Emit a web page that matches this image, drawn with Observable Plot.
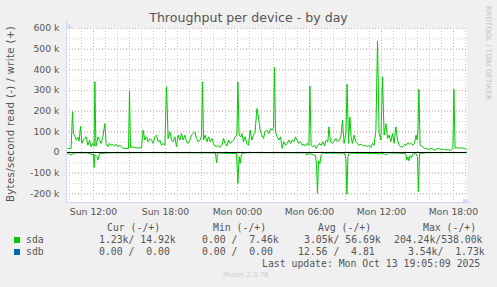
<!DOCTYPE html>
<html><head><meta charset="utf-8">
<script src="https://cdn.jsdelivr.net/npm/d3@7"></script>
<script src="https://cdn.jsdelivr.net/npm/@observablehq/plot@0.6"></script>
<style>
html,body{margin:0;padding:0}
body{background:#f0f0f0;width:497px;height:287px;overflow:hidden;position:relative;font-family:"DejaVu Sans",sans-serif;color:#5a5a5a}
.t{position:absolute;white-space:pre;line-height:1}
.mono{font-family:"DejaVu Sans Mono",monospace;font-size:9.8px;color:#555}
.sq{position:absolute;width:6px;height:6px}
#chart{position:absolute;left:0;top:0}
</style></head><body>
<div id="chart"></div>
<div class="t" style="left:0;width:497px;top:12px;text-align:center;font-size:12.6px;color:#555">Throughput per device - by day</div>
<div class="t" style="left:11px;top:114px;font-size:10.2px;letter-spacing:0.35px;transform:translate(-50%,-50%) rotate(-90deg);color:#555">Bytes/second read (-) / write (+)</div>
<div class="t" style="left:488px;top:53px;font-size:7.3px;color:#c4c4c4;transform:translate(-50%,-50%) rotate(90deg)">RRDTOOL / TOBI OETIKER</div>
<div id="legend"></div>
<script>
// ---- data (values in kB/s; times = minutes after Sun 12 Oct 2025 09:50) ----
const sdaWriteMin = [2,18,25,30,35,43,52,58,65,72,78,85,93,102,110,118,127,133,137,142,147,152,160,168,177,187,193,202,210,218,227,235,243,252,260,268,277,293,305,310,315,327,337,353,370,378,387,395,403,412,420,428,437,445,453,462,470,478,487,495,503,512,520,528,537,545,553,562,570,578,587,595,603,612,620,628,637,645,653,663,670,675,680,688,697,705,713,722,730,738,747,755,763,772,780,788,797,805,813,822,830,838,847,852,858,867,872,880,888,897,905,913,922,930,938,947,955,963,972,980,988,997,1007,1015,1023,1030,1035,1040,1048,1057,1065,1073,1082,1090,1098,1107,1115,1123,1132,1140,1148,1157,1165,1173,1182,1190,1198,1207,1212,1218,1227,1235,1243,1252,1260,1268,1277,1285,1293,1302,1307,1315,1323,1332,1342,1350,1358,1367,1375,1383,1392,1398,1405,1412,1418,1425,1433,1442,1450,1458,1467,1475,1483,1492,1500,1508,1517,1525,1533,1542,1550,1558,1567,1575,1583,1592,1600,1608,1617,1625,1633,1642,1650,1658,1667,1677,1685,1693,1702,1710,1718,1727,1735,1743,1748,1752,1757,1763,1770,1777,1785,1793,1802,1810,1818,1827,1835,1843,1852,1860,1868,1877,1885,1893,1902,1910,1918,1927,1932,1938,1947,1955,1963,1973,1983,1993];
const sdaWrite = [20,20,197,90,84,60,75,55,127,44,60,68,76,35,60,27,44,30,342,30,50,76,60,44,76,140,44,27,44,35,40,30,40,27,35,30,20,20,20,298,25,27,23,22,23,108,60,76,52,68,60,44,76,84,52,60,35,44,35,318,68,100,60,52,76,27,84,60,92,60,84,52,44,60,84,92,100,68,52,60,80,342,60,84,52,76,52,68,44,31,27,35,24,35,68,44,31,60,44,52,60,76,84,342,84,76,92,52,76,44,35,108,60,84,100,213,172,108,84,68,100,108,92,116,108,120,411,100,76,60,76,20,52,35,44,60,44,60,52,76,60,44,52,35,40,31,44,35,321,35,27,35,20,35,44,35,52,31,60,52,124,52,44,52,68,52,60,76,156,44,92,331,44,172,76,44,84,52,44,35,40,35,31,35,27,35,24,44,35,108,538,92,60,366,84,140,68,84,52,92,44,124,60,35,27,27,40,35,47,40,44,35,44,84,60,100,306,35,31,27,20,20,16,15,20,16,11,15,20,18,15,15,15,11,15,11,11,20,306,20,24,20,23,21,21,15];
const sdaReadMin = [0,10,18,25,30,40,100,125,130,133,137,147,152,160,200,400,700,740,745,750,845,852,858,863,870,900,1190,1198,1205,1240,1245,1250,1255,1262,1268,1275,1385,1392,1397,1402,1408,1550,1555,1560,1598,1605,1690,1697,1702,1707,1713,1720,1727,1740,1750,1755,1760,1800,1993];
const sdaRead = [-3,-8,-13,-5,-10,-2,-2,-10,-5,-73,-10,-20,-37,-5,-2,-1,-2,-3,-50,-3,-5,-150,-20,-53,-5,-1,-2,-13,-2,-15,-60,-198,-40,-53,-13,-3,-3,-30,-202,-20,-3,-5,-10,-2,-10,-2,-5,-37,-20,-40,-15,-25,-8,-3,-20,-190,-5,-1,-1];
const sdbMin = [0, 1995];
const sdbRead = [0, 0];
const sdbWrite = [0, 0];
const yTicks = [-200,-100,0,100,200,300,400,500,600];
const devices = ["sda","sdb"];
const colors = ["#00cc00","#0066b3"];
const legendHead = ["Cur (-/+)","Min (-/+)","Avg (-/+)","Max (-/+)"];
const legendRows = [
  ["1.23k/ 14.92k","0.00 /  7.46k","3.05k/ 56.69k","204.24k/538.00k"],
  ["0.00 /  0.00","0.00 /  0.00","12.56 /  4.81","3.54k/  1.73k"]
];
const lastUpdate = "Last update: Mon Oct 13 19:05:09 2025";
const version = "Munin 2.0.76";

// ---- build ----
const base = new Date(2025, 9, 12, 9, 50);
const t = m => new Date(+base + m * 60000);
const start = new Date(2025, 9, 12, 9, 45);
const end = new Date(2025, 9, 13, 19, 5);
const write = sdaWriteMin.map((m, i) => ({time: t(m), v: sdaWrite[i]}));
const read = sdaReadMin.map((m, i) => ({time: t(m), v: sdaRead[i]}));
const sdb = sdbMin.map((m, i) => ({time: t(m), r: sdbRead[i], w: sdbWrite[i]}));
const hours = d3.timeHour.range(start, end);
const hours3 = d3.timeHour.every(3).range(start, end);
const yMinor = d3.range(-200, 601, 50);
const axisCol = "#cfd6f8";
const yLow = -242;

const chart = Plot.plot({
  width: 497, height: 220,
  marginLeft: 66, marginRight: 31, marginTop: 28, marginBottom: 18,
  style: {background: "transparent", fontFamily: "DejaVu Sans", fontSize: "9.3px", color: "#555", overflow: "visible"},
  x: {type: "time", domain: [start, end]},
  y: {domain: [yLow, 600]},
  marks: [
    Plot.frame({fill: "white", stroke: null}),
    Plot.ruleX(hours, {stroke: "#cdcdcd", strokeDasharray: "1,2"}),
    Plot.ruleY(yMinor, {stroke: "#cdcdcd", strokeDasharray: "1,2"}),
    Plot.ruleX(hours3, {stroke: "#f0a4a4", strokeDasharray: "1,2"}),
    Plot.ruleY(yTicks, {stroke: "#f0a4a4", strokeDasharray: "1,2"}),
    Plot.line(sdb, {x: "time", y: "w", stroke: colors[1], strokeWidth: 1}),
    Plot.line(write, {x: "time", y: "v", stroke: colors[0], strokeWidth: 1, curve: "linear"}),
    Plot.line(read, {x: "time", y: "v", stroke: colors[0], strokeWidth: 1, curve: "linear"}),
    Plot.ruleY([0], {stroke: "black", strokeWidth: 1}),
    Plot.ruleX([start], {y1: yLow, y2: 636, stroke: axisCol}),
    Plot.ruleY([yLow], {x1: start, x2: new Date(+end + 20 * 60000), stroke: axisCol}),
    Plot.text(["▲"], {frameAnchor: "top-left", dy: -5, fill: axisCol, fontSize: 7}),
    Plot.text(["▶"], {frameAnchor: "bottom-right", dx: 2, fill: axisCol, fontSize: 7}),
    Plot.axisY({ticks: yTicks, tickFormat: d => d === 0 ? "0" : d + " k", tickSize: 0, tickPadding: 7, label: null}),
    Plot.axisX({ticks: d3.timeHour.every(6), tickFormat: d3.timeFormat("%a %H:%M"), tickSize: 0, tickPadding: 6, label: null})
  ]
});
document.getElementById("chart").appendChild(chart);

// ---- legend ----
const lg = document.getElementById("legend");
const add = (txt, x, yc, cls, extra) => {
  const d = document.createElement("div");
  d.className = "t " + (cls || "mono");
  d.textContent = txt;
  d.style.left = x + "px";
  d.style.top = (yc - 5) + "px";
  if (extra) Object.assign(d.style, extra);
  lg.appendChild(d);
};
const headX = [107, 213, 318, 423];
legendHead.forEach((h, i) => add(h, headX[i], 228));
const rowY = [240, 252];
const colX = [[99, 202, 304, 394], [99, 202, 298, 408]];
devices.forEach((name, r) => {
  const sq = document.createElement("div");
  sq.className = "sq";
  sq.style.left = "14px"; sq.style.top = (rowY[r] - 3) + "px";
  sq.style.background = colors[r];
  lg.appendChild(sq);
  add(name, 26, rowY[r]);
  legendRows[r].forEach((v, i) => add(v, colX[r][i], rowY[r]));
});
add(lastUpdate, 262, 264);
add(version, 223, 277, "sans", {fontSize: "7px", color: "#cccccc"});
</script>
</body></html>
